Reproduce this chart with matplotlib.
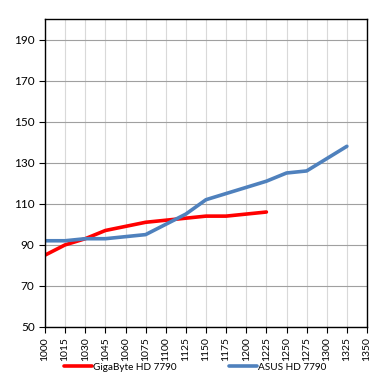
import matplotlib.pyplot as plt
import numpy as np

plt.rcParams['font.family'] = ['Lato', 'DejaVu Sans']

clocks = ['1000', '1015', '1030', '1045', '1060', '1075', '1100', '1125', '1150',
          '1175', '1200', '1225', '1250', '1275', '1300', '1325', '1350']
gigabyte = [85, 90, 93, 97, 99, 101, 102, 103, 104, 104, 105, 106]
asus = [92, 92, 93, 93, 94, 95, 100, 105, 112, 115, 118, 121, 125, 126, 132, 138]
y_ticks = [50, 70, 90, 110, 130, 150, 170, 190]

fig = plt.figure(figsize=(3.79, 3.79), dpi=100)
ax = fig.add_axes([45/379, 1-327/379, 322/379, 308/379])

x = np.arange(len(clocks))
ax.plot(x[:len(gigabyte)], gigabyte, color='#ff0000', lw=2.6, label='GigaByte HD 7790', solid_capstyle='round')
ax.plot(x[:len(asus)], asus, color='#4f81bd', lw=2.6, label='ASUS HD 7790', solid_capstyle='round')

ax.set_xlim(0, len(clocks) - 1)
ax.set_ylim(50, 200)
ax.set_xticks(x)
ax.set_xticklabels(clocks, rotation=90, fontsize=7.5)
ax.set_yticks(y_ticks)
ax.tick_params(axis='y', labelsize=8.5, length=4, width=0.8)
ax.tick_params(axis='x', length=4, width=0.8)

ax.grid(axis='y', color='#a0a0a0', lw=0.8)
ax.grid(axis='x', color='#d9d9d9', lw=0.8)
ax.set_axisbelow(True)
for s in ax.spines.values():
    s.set_color('black')
    s.set_linewidth(1.0)

fig.legend(loc='center', bbox_to_anchor=(195/379, 1-367/379), ncol=2, frameon=False,
           fontsize=7.2, handlelength=2.8, handletextpad=0.1, columnspacing=5.2)

fig.savefig('out.png', dpi=100)
